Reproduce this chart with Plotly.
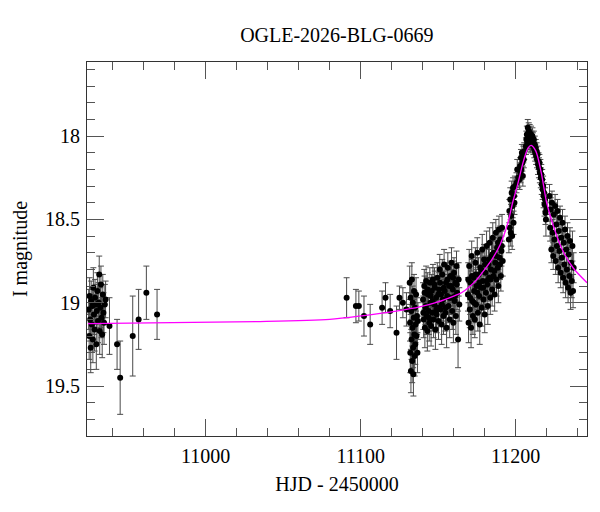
import plotly.graph_objects as go

# early season cluster
t_a = [10924.5, 10924.8, 10925.1, 10925.4, 10925.8, 10926.1, 10926.5, 10926.8, 10927.2, 10927.5,
       10927.9, 10928.3, 10928.6, 10929.0, 10929.4, 10929.7, 10930.1, 10930.5, 10930.9, 10931.3,
       10931.6, 10932.0, 10932.4, 10932.8, 10933.2, 10933.6, 10934.0, 10934.4, 10934.9, 10935.4,
       10937.9]
m_a = [19.04, 19.20, 18.96, 19.10, 19.27, 18.99, 19.13, 19.02, 19.22, 18.91,
       19.07, 19.16, 18.97, 19.01, 19.25, 19.05, 18.93, 19.11, 19.00, 18.83,
       19.17, 19.03, 18.89, 19.09, 19.19, 18.95, 19.06, 19.12, 19.01, 18.98,
       19.14]
e_a = [0.12, 0.14, 0.11, 0.13, 0.15, 0.12, 0.13, 0.11, 0.14, 0.12,
       0.12, 0.13, 0.11, 0.12, 0.15, 0.12, 0.11, 0.13, 0.12, 0.11,
       0.14, 0.12, 0.11, 0.12, 0.14, 0.12, 0.12, 0.13, 0.12, 0.11,
       0.17]

# sparse points
t_b = [10942.8, 10944.8, 10952.9, 10956.7, 10961.7, 10968.6, 11090.9, 11096.9, 11098.8,
       11102.1, 11106.1, 11113.8, 11116.0, 11119.0, 11123.1, 11125.0, 11127.2, 11129.5]
m_b = [19.25, 19.45, 19.20, 19.10, 18.94, 19.07, 18.97, 19.02, 19.02,
       19.08, 19.13, 19.03, 18.97, 19.05, 19.18, 18.97, 19.00, 19.04]
e_b = [0.15, 0.22, 0.24, 0.18, 0.16, 0.15, 0.12, 0.10, 0.09,
       0.12, 0.12, 0.10, 0.09, 0.10, 0.16, 0.07, 0.09, 0.10]

# column near 11134
t_c = [11131.6, 11131.8, 11132.0, 11132.2, 11132.4, 11132.6, 11132.8, 11133.0, 11133.2, 11133.4,
       11133.6, 11133.8, 11134.0, 11134.2, 11134.4, 11134.6, 11134.8, 11135.0, 11135.2, 11135.4,
       11135.7, 11136.0, 11136.3, 11136.6, 11136.9]
m_c = [18.88, 19.12, 19.30, 18.97, 19.41, 19.05, 19.22, 18.86, 19.35, 19.15,
       19.00, 19.27, 19.43, 19.09, 18.93, 19.19, 19.32, 19.03, 19.25, 19.13,
       18.95, 19.20, 19.08, 19.30, 19.11]
e_c = [0.10, 0.11, 0.12, 0.10, 0.13, 0.11, 0.12, 0.10, 0.13, 0.11,
       0.10, 0.12, 0.13, 0.11, 0.10, 0.11, 0.12, 0.10, 0.12, 0.11,
       0.10, 0.11, 0.11, 0.12, 0.11]

# 11140 - 11164
t_d = [11140.2, 11140.6, 11141.0, 11141.4, 11141.8, 11142.2, 11142.6, 11143.0, 11143.4, 11143.8,
       11144.2, 11144.6, 11145.0, 11145.4, 11145.8, 11146.2, 11146.6, 11147.0, 11147.4, 11147.8,
       11148.2, 11148.6, 11149.0, 11149.4, 11149.8, 11150.2, 11150.6, 11151.0, 11151.4, 11151.8,
       11152.2, 11152.6, 11153.0, 11153.4, 11153.8, 11154.2, 11154.6, 11155.0, 11155.4, 11155.8,
       11156.2, 11156.6, 11157.0, 11157.4, 11157.8, 11158.2, 11158.6, 11159.0, 11159.4, 11159.8,
       11160.2, 11160.6, 11161.0, 11161.4, 11161.8, 11162.2, 11162.8, 11163.2, 11163.6,
       11140.4, 11141.2, 11142.0, 11143.2, 11144.0, 11145.2, 11146.4, 11147.6, 11148.8, 11150.0,
       11151.2, 11152.4, 11153.6, 11154.8, 11156.0, 11157.2, 11158.4, 11159.6, 11160.8, 11162.0]
m_d = [18.98, 19.10, 18.90, 19.15, 19.03, 18.87, 19.08, 19.17, 18.95, 19.05,
       19.12, 18.88, 19.00, 19.14, 18.93, 19.06, 18.86, 19.10, 19.01, 18.91,
       19.16, 18.97, 19.07, 18.85, 19.03, 19.11, 18.92, 18.80, 19.04, 18.95,
       19.13, 18.83, 18.98, 19.08, 18.77, 18.93, 19.06, 18.88, 19.15, 18.96,
       18.79, 19.02, 18.90, 19.10, 18.84, 18.97, 18.76, 19.05, 18.92, 19.12,
       18.82, 18.99, 18.88, 19.08, 18.78, 18.94, 19.22, 18.86, 19.01,
       19.06, 18.94, 19.02, 18.92, 19.09, 18.96, 18.99, 18.89, 19.04, 18.95,
       18.88, 19.01, 18.91, 19.03, 18.86, 18.97, 18.90, 18.85, 18.96, 18.89]
e_d = [0.10, 0.11, 0.10, 0.12, 0.10, 0.09, 0.11, 0.12, 0.10, 0.10,
       0.11, 0.09, 0.10, 0.12, 0.10, 0.11, 0.09, 0.11, 0.10, 0.10,
       0.12, 0.10, 0.11, 0.09, 0.10, 0.11, 0.10, 0.09, 0.10, 0.10,
       0.12, 0.09, 0.10, 0.11, 0.09, 0.10, 0.11, 0.10, 0.12, 0.10,
       0.09, 0.10, 0.10, 0.11, 0.09, 0.10, 0.09, 0.11, 0.10, 0.12,
       0.09, 0.10, 0.10, 0.11, 0.09, 0.10, 0.17, 0.10, 0.10,
       0.10, 0.10, 0.11, 0.10, 0.10, 0.11, 0.10, 0.10, 0.11, 0.10,
       0.10, 0.10, 0.10, 0.11, 0.10, 0.10, 0.10, 0.10, 0.11, 0.10]

# 11169 - 11192
t_e = [11169.2, 11169.6, 11170.0, 11170.4, 11170.8, 11171.2, 11171.6, 11172.0, 11172.4, 11172.8,
       11173.2, 11173.6, 11174.0, 11174.4, 11174.8, 11175.2, 11175.6, 11176.0, 11176.4, 11176.8,
       11177.2, 11177.6, 11178.0, 11178.4, 11178.8, 11179.2, 11179.6, 11180.0, 11180.4, 11180.8,
       11181.2, 11181.6, 11182.0, 11182.4, 11182.8, 11183.2, 11183.6, 11184.0, 11184.4, 11184.8,
       11185.2, 11185.6, 11186.0, 11186.4, 11186.8, 11187.2, 11187.6, 11188.0, 11188.4, 11188.8,
       11189.2, 11189.6, 11190.0, 11190.4, 11190.8, 11191.2, 11191.6,
       11169.4, 11170.6, 11171.8, 11173.0, 11174.2, 11175.4, 11176.6, 11177.8, 11179.0, 11180.2,
       11181.4, 11182.6, 11183.8, 11185.0, 11186.2, 11187.4, 11188.6, 11189.8, 11191.0]
m_e = [18.95, 19.12, 18.78, 19.04, 18.88, 19.15, 18.72, 18.99, 19.08, 18.85,
       18.93, 19.10, 18.76, 19.01, 18.90, 18.70, 19.06, 18.83, 18.96, 19.13,
       18.79, 18.91, 19.03, 18.68, 18.87, 18.98, 18.74, 19.07, 18.82, 18.94,
       18.66, 18.89, 19.02, 18.77, 18.85, 18.64, 18.97, 18.80, 18.72, 18.92,
       18.61, 18.84, 18.70, 18.95, 18.76, 18.58, 18.86, 18.67, 18.79, 18.90,
       18.56, 18.73, 18.62, 18.84, 18.69, 18.55, 18.75,
       18.86, 18.97, 18.84, 19.00, 18.83, 18.94, 18.88, 18.80, 18.91, 18.77,
       18.87, 18.74, 18.86, 18.71, 18.81, 18.72, 18.64, 18.77, 18.66]
e_e = [0.10, 0.12, 0.10, 0.11, 0.10, 0.12, 0.09, 0.11, 0.11, 0.10,
       0.10, 0.11, 0.09, 0.11, 0.10, 0.09, 0.11, 0.10, 0.10, 0.12,
       0.09, 0.10, 0.11, 0.09, 0.10, 0.10, 0.09, 0.11, 0.10, 0.10,
       0.09, 0.10, 0.11, 0.09, 0.10, 0.09, 0.10, 0.10, 0.09, 0.10,
       0.09, 0.10, 0.09, 0.10, 0.09, 0.08, 0.10, 0.09, 0.09, 0.10,
       0.08, 0.09, 0.08, 0.09, 0.09, 0.08, 0.09,
       0.10, 0.10, 0.10, 0.11, 0.10, 0.10, 0.10, 0.10, 0.10, 0.10,
       0.10, 0.09, 0.10, 0.09, 0.10, 0.09, 0.09, 0.09, 0.09]

# rising branch
t_f = [11195.6, 11195.9, 11196.2, 11196.5, 11196.8, 11197.1, 11197.4, 11197.7, 11198.0, 11198.3,
       11198.6, 11198.9, 11199.2, 11199.5, 11200.5, 11201.0, 11201.6, 11202.5, 11202.8, 11203.1,
       11203.4, 11203.7, 11204.0, 11204.3, 11204.6, 11204.9, 11205.2, 11205.5]
m_f = [18.62, 18.45, 18.55, 18.38, 18.58, 18.48, 18.34, 18.60, 18.42, 18.31,
       18.52, 18.36, 18.40, 18.30, 18.28, 18.20, 18.25, 18.26, 18.18, 18.22,
       18.13, 18.20, 18.10, 18.16, 18.24, 18.11, 18.14, 18.09]
e_f = [0.08, 0.07, 0.08, 0.07, 0.08, 0.07, 0.07, 0.08, 0.07, 0.06,
       0.07, 0.06, 0.07, 0.06, 0.06, 0.06, 0.06, 0.06, 0.05, 0.06,
       0.05, 0.06, 0.05, 0.05, 0.06, 0.05, 0.05, 0.05]

# peak
t_g = [11206.6, 11206.9, 11207.2, 11207.5, 11207.8, 11208.1, 11208.4, 11208.7, 11209.0, 11209.3,
       11209.6, 11209.9, 11210.2, 11210.5, 11210.8]
m_g = [18.06, 18.02, 17.99, 18.04, 17.95, 18.00, 17.97, 18.03, 17.98, 18.01,
       18.05, 17.99, 18.02, 18.04, 18.00]
e_g = [0.05, 0.05, 0.05, 0.05, 0.05, 0.05, 0.05, 0.05, 0.05, 0.05,
       0.05, 0.05, 0.05, 0.05, 0.05]

# falling branch
t_h = [11211.1, 11211.4, 11211.7, 11212.0, 11212.3, 11212.6, 11212.9, 11213.2, 11213.5, 11213.8,
       11214.1, 11214.4, 11214.7, 11215.0, 11215.3, 11215.6, 11215.9, 11216.2, 11216.5, 11216.8,
       11217.1, 11217.4, 11217.7, 11218.0, 11218.3, 11218.6, 11218.9, 11219.2, 11219.5, 11219.8]
m_h = [18.03, 18.06, 18.02, 18.08, 18.05, 18.10, 18.07, 18.12, 18.09, 18.14,
       18.11, 18.17, 18.15, 18.19, 18.16, 18.22, 18.20, 18.25, 18.23, 18.29,
       18.26, 18.32, 18.30, 18.36, 18.34, 18.41, 18.38, 18.46, 18.50, 18.44]
e_h = [0.05, 0.05, 0.05, 0.05, 0.05, 0.05, 0.05, 0.05, 0.05, 0.05,
       0.05, 0.06, 0.05, 0.06, 0.05, 0.06, 0.06, 0.06, 0.06, 0.06,
       0.06, 0.06, 0.06, 0.07, 0.06, 0.07, 0.07, 0.07, 0.10, 0.07]

# tail
t_i = [11221.8, 11222.2, 11222.6, 11223.0, 11223.4, 11223.8, 11224.2, 11224.6, 11225.0, 11225.4,
       11225.8, 11226.2, 11226.6, 11227.0, 11227.4, 11227.8, 11228.2, 11228.6, 11229.0, 11229.4,
       11229.8, 11230.2, 11230.6, 11231.0, 11231.4, 11231.8, 11232.2, 11232.6, 11233.0, 11233.4,
       11233.8, 11234.2, 11234.6, 11235.0, 11235.4, 11235.8, 11236.2, 11236.6, 11237.0, 11237.4]
m_i = [18.36, 18.55, 18.44, 18.68, 18.40, 18.58, 18.72, 18.47, 18.62, 18.42,
       18.75, 18.53, 18.66, 18.45, 18.79, 18.57, 18.69, 18.49, 18.82, 18.61,
       18.73, 18.52, 18.85, 18.64, 18.77, 18.56, 18.88, 18.68, 18.80, 18.60,
       18.91, 18.71, 18.84, 18.63, 18.94, 18.76, 18.87, 18.66, 18.93, 18.79]
e_i = [0.07, 0.08, 0.07, 0.08, 0.07, 0.08, 0.08, 0.07, 0.08, 0.07,
       0.08, 0.08, 0.08, 0.07, 0.09, 0.08, 0.08, 0.07, 0.09, 0.08,
       0.08, 0.08, 0.09, 0.08, 0.09, 0.08, 0.09, 0.08, 0.09, 0.08,
       0.09, 0.09, 0.09, 0.08, 0.10, 0.09, 0.10, 0.09, 0.10, 0.09]

# model curve
model_t = [10924, 11035, 11080, 11102, 11123, 11138, 11150, 11160, 11165, 11170,
           11175, 11180, 11185, 11190, 11195, 11198, 11201, 11205, 11208, 11210,
           11213, 11216.5, 11220, 11224, 11230, 11237, 11246]
model_m = [19.125, 19.113, 19.10, 19.077, 19.05, 19.025, 18.995, 18.96, 18.94, 18.905,
           18.86, 18.80, 18.735, 18.65, 18.52, 18.40, 18.30, 18.15, 18.07, 18.055,
           18.09, 18.22, 18.40, 18.53, 18.68, 18.79, 18.88]

hjd = t_a + t_b + t_c + t_d + t_e + t_f + t_g + t_h + t_i
mag = m_a + m_b + m_c + m_d + m_e + m_f + m_g + m_h + m_i
err = e_a + e_b + e_c + e_d + e_e + e_f + e_g + e_h + e_i
assert len(hjd) == len(mag) == len(err)

FONT = "Liberation Serif"

fig = go.Figure()

fig.add_trace(go.Scatter(
    x=hjd, y=mag,
    mode="markers",
    marker=dict(size=6, color="black"),
    error_y=dict(type="data", array=err, visible=True,
                 color="#4a4a4a", thickness=1, width=3),
    showlegend=False,
))

fig.add_trace(go.Scatter(
    x=model_t, y=model_m,
    mode="lines",
    line=dict(color="#ff00ff", width=1.3, shape="spline", smoothing=0.8),
    showlegend=False,
))

axis_common = dict(
    showline=True, linecolor="#333333", linewidth=1, mirror="ticks",
    ticks="inside", tickcolor="#555555", tickwidth=1, ticklen=17,
    showgrid=False, zeroline=False, automargin=False,
    tickfont=dict(family=FONT, size=20, color="black"),
)

fig.update_xaxes(
    range=[10923.4, 11246], dtick=100, tick0=11000, tickformat="d",
    minor=dict(dtick=20, ticks="inside", ticklen=8, tickcolor="#555555"),
    ticklabelstandoff=2,
    title=dict(text="HJD - 2450000", font=dict(family=FONT, size=20, color="black"), standoff=10),
    **axis_common,
)
fig.update_yaxes(
    range=[19.80, 17.555], dtick=0.5, tick0=18,
    minor=dict(dtick=0.1, ticks="inside", ticklen=8, tickcolor="#555555"),
    ticklabelstandoff=2,
    title=dict(text="I magnitude", font=dict(family=FONT, size=20, color="black"), standoff=12),
    **axis_common,
)

fig.update_layout(
    width=600, height=512,
    margin=dict(l=79, r=21, t=54, b=84),
    paper_bgcolor="white", plot_bgcolor="white",
    title=dict(text="OGLE-2026-BLG-0669", x=0.548, xanchor="center", y=0.947, yanchor="middle",
               font=dict(family=FONT, size=20, color="black")),
)

fig.write_html("out.html")
